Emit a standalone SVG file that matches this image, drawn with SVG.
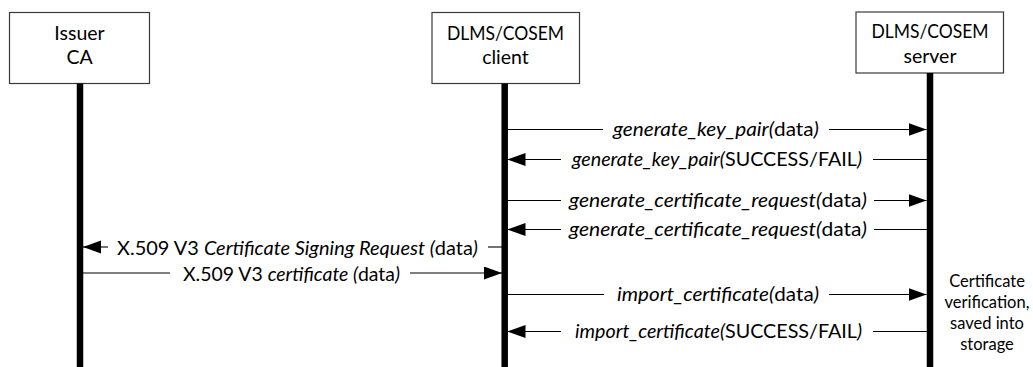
<svg xmlns="http://www.w3.org/2000/svg" width="1033" height="367" viewBox="0 0 1033 367">
<defs>
<style>
.box{fill:#fff;stroke:#3a3a3a;stroke-width:1.2}
.life{stroke:#000;stroke-width:6.5}
.msg{stroke:#000;stroke-width:1.1;fill:none}
.arr{stroke:#000;stroke-width:1.1;fill:none;marker-end:url(#ah)}
.lbl{font-family:Lato,"Liberation Sans",sans-serif;font-size:19.5px;fill:#000;text-anchor:middle}
.ml{font-family:Lato,"Liberation Sans",sans-serif;font-size:19px;fill:#000;text-anchor:middle}
.note{font-family:Lato,"Liberation Sans",sans-serif;font-size:16.5px;fill:#000;text-anchor:middle}
.i{font-style:italic}
</style>
<marker id="ah" markerUnits="userSpaceOnUse" markerWidth="19" markerHeight="14" refX="18" refY="6.5" orient="auto">
<path d="M0,0 L18,6.5 L0,13 Z" fill="#000"/>
</marker>
</defs>
<rect width="1033" height="367" fill="#fff"/>
<g id="issuer">
<rect class="box" x="9.5" y="12.5" width="140" height="71"/>
<text class="lbl" x="79.5" y="39.5">Issuer</text>
<text class="lbl" x="79.5" y="63.5">CA</text>
<line class="life" x1="80" y1="83.5" x2="80" y2="367"/>
</g>
<g id="client">
<rect class="box" x="432" y="12.5" width="147.5" height="71"/>
<text class="lbl" x="505.5" y="39.5" textLength="117" lengthAdjust="spacingAndGlyphs">DLMS/COSEM</text>
<text class="lbl" x="505.5" y="63.5">client</text>
<line class="life" x1="504.7" y1="83.5" x2="504.7" y2="367"/>
</g>
<g id="server">
<rect class="box" x="856" y="12" width="147.5" height="61"/>
<text class="lbl" x="930" y="37.5" textLength="117" lengthAdjust="spacingAndGlyphs">DLMS/COSEM</text>
<text class="lbl" x="930" y="63">server</text>
<line class="life" x1="930" y1="73" x2="930" y2="367"/>
<text class="note" x="987" y="287">Certificate</text>
<text class="note" x="987" y="308">verification,</text>
<text class="note" x="987" y="329">saved into</text>
<text class="note" x="987" y="350">storage</text>
</g>
<g id="connectors">
<line class="msg" x1="507" y1="129.5" x2="603" y2="129.5"/>
<line class="arr" x1="829" y1="129.5" x2="926.5" y2="129.5"/>
<text class="ml" x="716" y="136" textLength="206" lengthAdjust="spacingAndGlyphs"><tspan class="i">generate_key_pair(</tspan>data<tspan class="i">)</tspan></text>

<line class="arr" x1="561" y1="159.5" x2="507.5" y2="159.5"/>
<line class="msg" x1="873" y1="159.5" x2="927" y2="159.5"/>
<text class="ml" x="717" y="166" textLength="290" lengthAdjust="spacingAndGlyphs"><tspan class="i">generate_key_pair(</tspan>SUCCESS/FAIL<tspan class="i">)</tspan></text>

<line class="msg" x1="507" y1="200.5" x2="561" y2="200.5"/>
<line class="arr" x1="874" y1="200.5" x2="926.5" y2="200.5"/>
<text class="ml" x="718" y="207" textLength="298" lengthAdjust="spacingAndGlyphs"><tspan class="i">generate_certificate_request(</tspan>data<tspan class="i">)</tspan></text>

<line class="arr" x1="561" y1="229.5" x2="507.5" y2="229.5"/>
<line class="msg" x1="874" y1="229.5" x2="927" y2="229.5"/>
<text class="ml" x="718" y="236" textLength="298" lengthAdjust="spacingAndGlyphs"><tspan class="i">generate_certificate_request(</tspan>data<tspan class="i">)</tspan></text>

<line class="arr" x1="108" y1="247" x2="83" y2="247"/>
<line class="msg" x1="488" y1="247" x2="502" y2="247"/>
<text class="ml" x="297.5" y="254.5" textLength="361" lengthAdjust="spacingAndGlyphs">X.509 V3 <tspan class="i">Certificate Signing Request (</tspan>data<tspan class="i">)</tspan></text>

<line class="msg" x1="83" y1="273" x2="170" y2="273"/>
<line class="arr" x1="410" y1="273" x2="502" y2="273"/>
<text class="ml" x="291.5" y="280.5" textLength="217" lengthAdjust="spacingAndGlyphs">X.509 V3 <tspan class="i">certificate (</tspan>data<tspan class="i">)</tspan></text>

<line class="msg" x1="507" y1="294.5" x2="604" y2="294.5"/>
<line class="arr" x1="829" y1="294.5" x2="926.5" y2="294.5"/>
<text class="ml" x="718" y="301" textLength="202" lengthAdjust="spacingAndGlyphs"><tspan class="i">import_certificate(</tspan>data<tspan class="i">)</tspan></text>

<line class="arr" x1="561" y1="331.5" x2="507.5" y2="331.5"/>
<line class="msg" x1="873" y1="331.5" x2="927" y2="331.5"/>
<text class="ml" x="718.5" y="338" textLength="287" lengthAdjust="spacingAndGlyphs"><tspan class="i">import_certificate(</tspan>SUCCESS/FAIL<tspan class="i">)</tspan></text>
</g>
</svg>
